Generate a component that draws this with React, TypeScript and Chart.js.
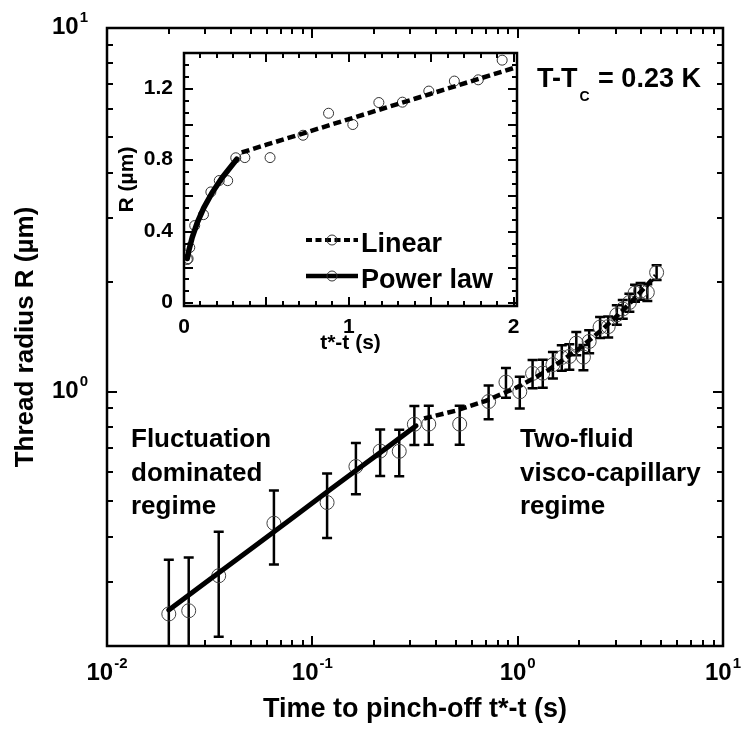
import React, { useEffect, useRef } from 'react';
import { Chart, registerables } from 'chart.js';

Chart.register(...registerables);

const W = 743;
const H = 731;
const FONT = '"Liberation Sans", Arial, Helvetica, sans-serif';

// ---- data ----
const pinchTimes = [
  0.020, 0.025, 0.035, 0.065, 0.118, 0.163, 0.214, 0.265, 0.314, 0.369,
  0.522, 0.722, 0.877, 1.024, 1.182, 1.325, 1.485, 1.640, 1.785, 1.930,
  2.09, 2.23, 2.52, 2.76, 3.04, 3.25, 3.50, 3.73, 3.97, 4.28, 4.75,
];
const threadRadii = [
  0.245, 0.250, 0.312, 0.435, 0.496, 0.623, 0.687, 0.686, 0.814, 0.815,
  0.815, 0.940, 1.063, 1.000, 1.123, 1.125, 1.187, 1.243, 1.250, 1.360,
  1.245, 1.375, 1.506, 1.510, 1.628, 1.688, 1.760, 1.868, 1.890, 1.876, 2.128,
];
const radiusErrors = [
  0.1, 0.1, 0.1, 0.1, 0.1, 0.1, 0.1, 0.1, 0.1, 0.1,
  0.1, 0.1, 0.1, 0.1, 0.1, 0.1, 0.1, 0.1, 0.1, 0.1,
  0.1, 0.1, 0.1, 0.1, 0.1, 0.1, 0.1, 0.1, 0.1, 0.1, 0.1,
];
const powerLawTimes = [0.02, 0.03, 0.05, 0.08, 0.12, 0.17, 0.23, 0.32];
const powerLawRadii = [0.251, 0.298, 0.369, 0.450, 0.534, 0.618, 0.701, 0.806];
const linearFitTimes = [0.35, 0.5, 0.7, 1.0, 1.4, 2.0, 2.6, 3.2, 3.8, 4.3, 4.7];
const linearFitRadii = [0.844, 0.887, 0.944, 1.030, 1.144, 1.316, 1.488, 1.659, 1.831, 1.974, 2.088];

// ---- tick labels ----
const mainXTicks = [0.01, 0.1, 1, 10];
const mainXTickExponents = ['-2', '-1', '0', '1'];
const mainYTicks = [1, 10];
const mainYTickExponents = ['0', '1'];
const insetXTicks = [0, 1, 2];
const insetXTickLabels = ['0', '1', '2'];
const insetYTicks = [0, 0.4, 0.8, 1.2];
const insetYTickLabels = ['0', '0.4', '0.8', '1.2'];
const legendLabels = ['Linear', 'Power law'];
const fluctuationText = ['Fluctuation', 'dominated', 'regime'];
const viscoText = ['Two-fluid', 'visco-capillary', 'regime'];

const INSET_T_MAX = 2.02;

function bold(size: number) {
  return `bold ${size}px ${FONT}`;
}

function drawText(ctx: CanvasRenderingContext2D, s: string, x: number, y: number, size: number, align: CanvasTextAlign = 'left') {
  ctx.font = bold(size);
  ctx.textAlign = align;
  ctx.textBaseline = 'alphabetic';
  ctx.fillText(s, x, y);
}

function drawPow(ctx: CanvasRenderingContext2D, exp: string, x: number, y: number, align: 'center' | 'right') {
  const bf = bold(24);
  const ef = bold(15);
  ctx.textBaseline = 'alphabetic';
  ctx.textAlign = 'left';
  ctx.font = bf;
  const bw = ctx.measureText('10').width;
  ctx.font = ef;
  const ew = ctx.measureText(exp).width;
  const gap = 1;
  const total = bw + gap + ew;
  const x0 = align === 'center' ? x - total / 2 : x - total;
  ctx.font = bf;
  ctx.fillText('10', x0, y);
  ctx.font = ef;
  ctx.fillText(exp, x0 + bw + gap, y - 12);
}

function logMinorTicks(min: number, max: number) {
  const out: number[] = [];
  for (let d = Math.floor(Math.log10(min)); d <= Math.ceil(Math.log10(max)); d++) {
    for (let m = 2; m <= 9; m++) {
      const v = m * Math.pow(10, d);
      if (v > min * 1.0001 && v < max * 0.9999) out.push(v);
    }
  }
  return out;
}

function drawXTicks(ctx: CanvasRenderingContext2D, chart: any, values: number[], len: number) {
  const ca = chart.chartArea;
  const xs = chart.scales.x;
  ctx.beginPath();
  for (const v of values) {
    const px = Math.round(xs.getPixelForValue(v));
    ctx.moveTo(px, ca.bottom);
    ctx.lineTo(px, ca.bottom - len);
    ctx.moveTo(px, ca.top);
    ctx.lineTo(px, ca.top + len);
  }
  ctx.stroke();
}

function drawYTicks(ctx: CanvasRenderingContext2D, chart: any, values: number[], len: number) {
  const ca = chart.chartArea;
  const ys = chart.scales.y;
  ctx.beginPath();
  for (const v of values) {
    const py = Math.round(ys.getPixelForValue(v));
    ctx.moveTo(ca.left, py);
    ctx.lineTo(ca.left + len, py);
    ctx.moveTo(ca.right, py);
    ctx.lineTo(ca.right - len, py);
  }
  ctx.stroke();
}

const errorBarPlugin = {
  id: 'errorBars',
  beforeDatasetsDraw(chart: any) {
    const ctx: CanvasRenderingContext2D = chart.ctx;
    const ca = chart.chartArea;
    const xs = chart.scales.x;
    const ys = chart.scales.y;
    ctx.save();
    ctx.beginPath();
    ctx.rect(ca.left, ca.top, ca.right - ca.left, ca.bottom - ca.top);
    ctx.clip();
    ctx.strokeStyle = '#000';
    ctx.lineWidth = 2.5;
    ctx.beginPath();
    for (let i = 0; i < pinchTimes.length; i++) {
      const px = xs.getPixelForValue(pinchTimes[i]);
      const lo = threadRadii[i] - radiusErrors[i];
      const hi = threadRadii[i] + radiusErrors[i];
      const pTop = ys.getPixelForValue(hi);
      const pBot = lo > 0 ? ys.getPixelForValue(lo) : ca.bottom + 10;
      ctx.moveTo(px, pTop);
      ctx.lineTo(px, pBot);
      ctx.moveTo(px - 5, pTop);
      ctx.lineTo(px + 5, pTop);
      ctx.moveTo(px - 5, pBot);
      ctx.lineTo(px + 5, pBot);
    }
    ctx.stroke();
    ctx.restore();
  },
};

const mainDecorPlugin = {
  id: 'mainDecor',
  afterDraw(chart: any) {
    const ctx: CanvasRenderingContext2D = chart.ctx;
    const ca = chart.chartArea;
    const xs = chart.scales.x;
    const ys = chart.scales.y;
    ctx.save();
    ctx.fillStyle = '#000';
    ctx.strokeStyle = '#000';
    // ticks
    ctx.lineWidth = 2;
    drawXTicks(ctx, chart, mainXTicks, 10);
    drawXTicks(ctx, chart, logMinorTicks(xs.min, xs.max), 6);
    drawYTicks(ctx, chart, mainYTicks, 10);
    drawYTicks(ctx, chart, logMinorTicks(ys.min, ys.max), 6);
    // frame
    ctx.lineWidth = 2.5;
    ctx.strokeRect(ca.left, ca.top, ca.right - ca.left, ca.bottom - ca.top);
    // tick labels
    mainXTicks.forEach((v, i) => {
      drawPow(ctx, mainXTickExponents[i], xs.getPixelForValue(v), ca.bottom + 34, 'center');
    });
    mainYTicks.forEach((v, i) => {
      drawPow(ctx, mainYTickExponents[i], ca.left - 19, ys.getPixelForValue(v) + 6, 'right');
    });
    // axis titles
    drawText(ctx, 'Time to pinch-off t*-t (s)', (ca.left + ca.right) / 2, 717, 27, 'center');
    ctx.save();
    ctx.translate(33, (ca.top + ca.bottom) / 2);
    ctx.rotate(-Math.PI / 2);
    drawText(ctx, 'Thread radius R (\u00b5m)', 0, 0, 26, 'center');
    ctx.restore();
    // annotations
    fluctuationText.forEach((s, i) => drawText(ctx, s, 131, 447 + i * 33.5, 26));
    viscoText.forEach((s, i) => drawText(ctx, s, 520, 447 + i * 33.5, 26));
    // T - Tc label
    ctx.textAlign = 'left';
    ctx.font = bold(27);
    let x = 537;
    ctx.fillText('T-T', x, 87);
    x += ctx.measureText('T-T').width + 2;
    ctx.font = bold(14);
    ctx.fillText('C', x, 101);
    x += ctx.measureText('C').width + 1;
    ctx.font = bold(27);
    ctx.fillText(' = 0.23 K', x, 87);
    ctx.restore();
  },
};

const insetDecorPlugin = {
  id: 'insetDecor',
  beforeDraw(chart: any) {
    const ctx: CanvasRenderingContext2D = chart.ctx;
    const ca = chart.chartArea;
    ctx.save();
    ctx.fillStyle = '#fff';
    ctx.fillRect(ca.left, ca.top, ca.right - ca.left, ca.bottom - ca.top);
    ctx.restore();
  },
  afterDraw(chart: any) {
    const ctx: CanvasRenderingContext2D = chart.ctx;
    const ca = chart.chartArea;
    const xs = chart.scales.x;
    const ys = chart.scales.y;
    ctx.save();
    ctx.fillStyle = '#000';
    ctx.strokeStyle = '#000';
    ctx.lineWidth = 2;
    const xMajor: number[] = [];
    const xMinor: number[] = [];
    for (let k = 0; k <= 20; k++) {
      const v = k / 10;
      if (k % 5 === 0) xMajor.push(v);
      else xMinor.push(v);
    }
    const yMajor: number[] = [];
    const yMinor: number[] = [];
    for (let k = 0; k <= 21; k++) {
      const v = (k * 0.2) / 3;
      if (v > ys.max) break;
      if (k % 3 === 0) yMajor.push(v);
      else yMinor.push(v);
    }
    drawXTicks(ctx, chart, xMajor, 9);
    drawXTicks(ctx, chart, xMinor, 5);
    drawYTicks(ctx, chart, yMajor, 9);
    drawYTicks(ctx, chart, yMinor, 5);
    ctx.lineWidth = 2.5;
    ctx.strokeRect(ca.left, ca.top, ca.right - ca.left, ca.bottom - ca.top);
    // tick labels
    insetXTicks.forEach((v, i) => drawText(ctx, insetXTickLabels[i], xs.getPixelForValue(v), 333, 21, 'center'));
    insetYTicks.forEach((v, i) => drawText(ctx, insetYTickLabels[i], 173, ys.getPixelForValue(v) + 5, 21, 'right'));
    // axis titles
    drawText(ctx, 't*-t (s)', (ca.left + ca.right) / 2, 349, 21, 'center');
    ctx.save();
    ctx.translate(133, (ca.top + ca.bottom) / 2);
    ctx.rotate(-Math.PI / 2);
    drawText(ctx, 'R (\u00b5m)', 0, 0, 21, 'center');
    ctx.restore();
    // legend
    const rows = [240, 276];
    rows.forEach((ry, i) => {
      ctx.save();
      ctx.lineWidth = i === 0 ? 4 : 4.5;
      ctx.setLineDash(i === 0 ? [6, 3.5] : []);
      ctx.beginPath();
      ctx.moveTo(306, ry);
      ctx.lineTo(358, ry);
      ctx.stroke();
      ctx.setLineDash([]);
      ctx.strokeStyle = '#333';
      ctx.lineWidth = 1;
      ctx.beginPath();
      ctx.arc(332, ry, 5, 0, Math.PI * 2);
      ctx.stroke();
      ctx.restore();
      drawText(ctx, legendLabels[i], 361, ry + 12, 27);
    });
    ctx.restore();
  },
};

export default function App() {
  const mainRef = useRef<HTMLCanvasElement>(null);
  const insetRef = useRef<HTMLCanvasElement>(null);

  useEffect(() => {
    const points = pinchTimes.map((t, i) => ({ x: t, y: threadRadii[i] }));
    const power = powerLawTimes.map((t, i) => ({ x: t, y: powerLawRadii[i] }));
    const linear = linearFitTimes.map((t, i) => ({ x: t, y: linearFitRadii[i] }));
    const insetPoints = points.filter((p) => p.x <= 2);

    const mainChart = new Chart(mainRef.current as HTMLCanvasElement, {
      type: 'scatter',
      data: {
        datasets: [
          {
            data: power,
            showLine: true,
            borderColor: '#000',
            borderWidth: 5,
            pointRadius: 0,
            borderCapStyle: 'round',
            order: 1,
          } as any,
          {
            data: linear,
            showLine: true,
            borderColor: '#000',
            borderWidth: 4.5,
            borderDash: [8, 4],
            pointRadius: 0,
            order: 2,
          } as any,
          {
            data: points,
            showLine: false,
            pointRadius: 7,
            pointHoverRadius: 7,
            pointBorderWidth: 1,
            pointBorderColor: '#444',
            pointBackgroundColor: 'rgba(0,0,0,0)',
            order: 3,
          } as any,
        ],
      },
      options: {
        responsive: false,
        devicePixelRatio: 1,
        animation: false,
        events: [],
        layout: { padding: { left: 107, top: 28, right: W - 723, bottom: H - 646 } },
        plugins: { legend: { display: false }, tooltip: { enabled: false } },
        scales: {
          x: { type: 'logarithmic', min: 0.01, max: 10, display: false },
          y: { type: 'logarithmic', min: 0.2, max: 10, display: false },
        },
      } as any,
      plugins: [errorBarPlugin, mainDecorPlugin],
    });

    const insetChart = new Chart(insetRef.current as HTMLCanvasElement, {
      type: 'scatter',
      data: {
        datasets: [
          {
            data: power,
            showLine: true,
            borderColor: '#000',
            borderWidth: 5.5,
            pointRadius: 0,
            borderCapStyle: 'round',
            order: 1,
          } as any,
          {
            data: linear,
            showLine: true,
            borderColor: '#000',
            borderWidth: 4.5,
            borderDash: [8, 4],
            pointRadius: 0,
            order: 2,
          } as any,
          {
            data: insetPoints,
            showLine: false,
            pointRadius: 5,
            pointHoverRadius: 5,
            pointBorderWidth: 1,
            pointBorderColor: '#333',
            pointBackgroundColor: 'rgba(0,0,0,0)',
            order: 3,
          } as any,
        ],
      },
      options: {
        responsive: false,
        devicePixelRatio: 1,
        animation: false,
        events: [],
        layout: { padding: { left: 184, top: 53, right: W - 517, bottom: H - 306 } },
        plugins: { legend: { display: false }, tooltip: { enabled: false } },
        scales: {
          x: { type: 'linear', min: 0, max: INSET_T_MAX, display: false },
          y: { type: 'linear', min: -0.015, max: 1.4, display: false },
        },
      } as any,
      plugins: [insetDecorPlugin],
    });

    return () => {
      mainChart.destroy();
      insetChart.destroy();
    };
  }, []);

  return (
    <div style={{ position: 'absolute', left: 0, top: 0, width: W, height: H, background: '#fff' }}>
      <canvas ref={mainRef} width={W} height={H} style={{ position: 'absolute', left: 0, top: 0, width: W, height: H }} />
      <canvas ref={insetRef} width={W} height={H} style={{ position: 'absolute', left: 0, top: 0, width: W, height: H }} />
    </div>
  );
}
